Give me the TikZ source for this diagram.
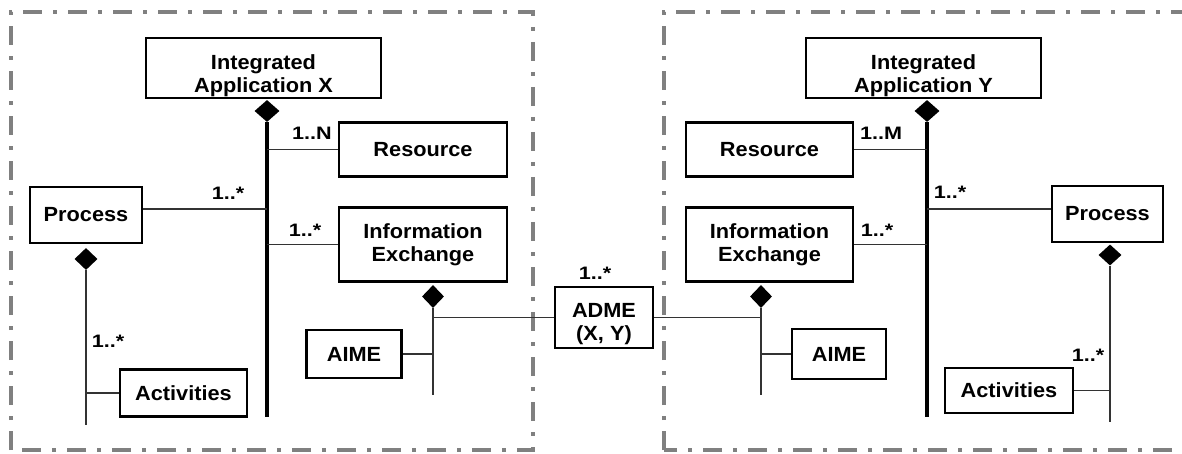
\documentclass[tikz,border=0pt]{standalone}
\usepackage{fontspec}
\setmainfont{Liberation Sans}[FakeStretch=1.06]
\newfontfamily\multfont{Liberation Sans}[FakeStretch=1.2]
\usetikzlibrary{shapes.geometric,calc}
\begin{document}
\begin{tikzpicture}[x=1pt,y=-1pt,
  box/.style={draw=black, line width=2.8pt, fill=white, inner sep=0pt, font=\fontsize{20.5}{23}\selectfont\bfseries, align=center},
  txt/.style={inner sep=0pt, font=\fontsize{20.5}{23}\selectfont\bfseries, align=center},
  mult/.style={inner sep=0pt, font=\multfont\fontsize{18}{20}\selectfont\bfseries},
  dia/.style={diamond, fill=black, draw=none, inner sep=0pt, minimum width=25pt, minimum height=22pt},
  spine/.style={line width=3.8pt, black},
  conn/.style={line width=1.5pt, black!80},
  frame/.style={line width=3.8pt, black!50, dash pattern=on 19pt off 11pt on 4pt off 11pt}]
\useasboundingbox (0,0) rectangle (1182,454);
\clip (0,0) rectangle (1182,454);
\fill[white] (0,0) rectangle (1182,454);

% frames
\draw[frame] (11,450) -- (11,12) -- (533,12) -- (533,450) -- cycle;
\draw[frame] (664,450) -- (664,12) -- (1200,12) -- (1200,450) -- cycle;

% ---------- left side ----------
\node[box, minimum width=235pt, minimum height=60pt] (iax) at (263.5,68) {};
\node[txt] (iaxt) at ([yshift=-8pt]iax.center) {Integrated\\Application X};
\node[box, minimum width=168pt, minimum height=54pt] (resx) at (423,149.5) {Resource};
\node[box, minimum width=112pt, minimum height=56pt] (procx) at (86,215) {Process};
\node[box, minimum width=168pt, minimum height=74pt] (iex) at (423,244.5) {Information\\Exchange};
\node[box, minimum width=95pt, minimum height=48pt] (aimex) at (354,354) {AIME};
\node[box, minimum width=127pt, minimum height=47pt] (actx) at (183.5,393) {Activities};

\node[dia] (dax) at (267,111) {};
\coordinate (ex) at (267,417);
\draw[spine] (dax.south) -- (ex);
\draw[conn] (resx.west) -- (resx.west -| dax);
\draw[conn] ([yshift=6pt]procx.east) -- ([yshift=6pt]procx.east -| dax);
\draw[conn] (iex.west) -- (iex.west -| dax);

\node[dia, minimum width=22pt, minimum height=23pt] (diex) at (433,296.5) {};
\coordinate (eiex) at (433,395);
\draw[conn] (diex.south) -- (eiex);
\draw[conn] (aimex.east) -- (aimex.east -| diex);

\node[dia, minimum width=23pt, minimum height=22pt] (dpx) at (86,259) {};
\coordinate (epx) at (86,425);
\draw[conn] (dpx.south) -- (epx);
\draw[conn] (actx.west) -- (actx.west -| dpx);

\node[mult] (m1) at (312,133) {1..N};
\node[mult] (m2) at (228,193) {1..*};
\node[mult] (m3) at (305,230) {1..*};
\node[mult] (m4) at (108,341) {1..*};

% ---------- middle ----------
\node[box, minimum width=98pt, minimum height=61pt] (adme) at (604,317.5) {};
\node[txt] (admet) at ([yshift=-7pt]adme.center) {ADME\\(X, Y)};
\node[mult] (m5) at (595,273) {1..*};

% ---------- right side ----------
\node[box, minimum width=235pt, minimum height=60pt] (iay) at (923.5,68) {};
\node[txt] (iayt) at ([yshift=-8pt]iay.center) {Integrated\\Application Y};
\node[box, minimum width=167pt, minimum height=54pt] (resy) at (769.5,149.5) {Resource};
\node[box, minimum width=167pt, minimum height=74pt] (iey) at (769.5,244.5) {Information\\Exchange};
\node[box, minimum width=111pt, minimum height=56pt] (procy) at (1107.5,214) {Process};
\node[box, minimum width=94pt, minimum height=50pt] (aimey) at (839,354) {AIME};
\node[box, minimum width=128pt, minimum height=45pt] (acty) at (1009,390.5) {Activities};

\node[dia] (day) at (927,111) {};
\coordinate (ey) at (927,417);
\draw[spine] (day.south) -- (ey);
\draw[conn] (resy.east) -- (resy.east -| day);
\draw[conn] ([yshift=5pt]procy.west) -- ([yshift=5pt]procy.west -| day);
\draw[conn] (iey.east) -- (iey.east -| day);

\node[dia, minimum width=22pt, minimum height=23pt] (diey) at (761,296.5) {};
\coordinate (eiey) at (761,395);
\draw[conn] (diey.south) -- (eiey);
\draw[conn] (aimey.west) -- (aimey.west -| diey);

\node[dia, minimum width=23pt, minimum height=21pt] (dpy) at (1110,255) {};
\coordinate (epy) at (1110,422);
\draw[conn] (dpy.south) -- (epy);
\draw[conn] (acty.east) -- (acty.east -| dpy);

\node[mult] (m6) at (881,133) {1..M};
\node[mult] (m7) at (950,192) {1..*};
\node[mult] (m8) at (877,230) {1..*};
\node[mult] (m9) at (1088,355) {1..*};

% ADME connectors
\draw[conn] (adme.west) -- (adme.west -| diex);
\draw[conn] (adme.east) -- (adme.east -| diey);
\end{tikzpicture}
\end{document}
